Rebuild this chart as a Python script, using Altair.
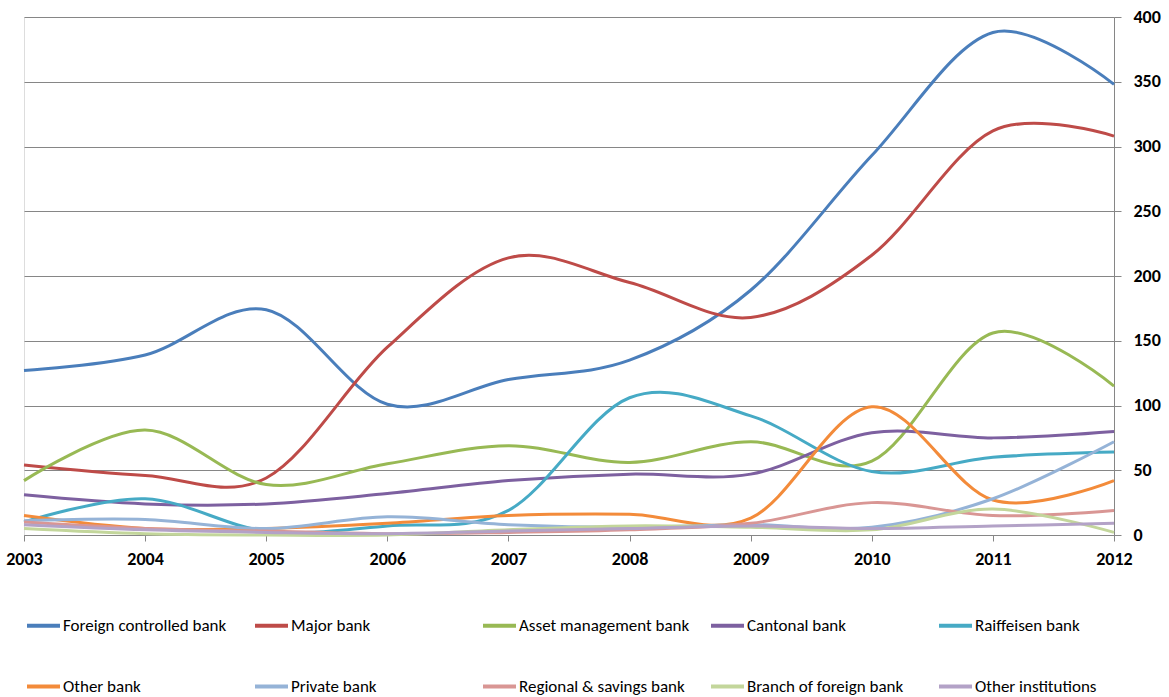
import altair as alt
import pandas as pd

years = [2003, 2004, 2005, 2006, 2007, 2008, 2009, 2010, 2011, 2012]

series_names = [
    "Foreign controlled bank", "Major bank", "Asset management bank", "Cantonal bank",
    "Raiffeisen bank", "Other bank", "Private bank", "Regional & savings bank",
    "Branch of foreign bank", "Other institutions",
]

foreign_controlled = [127, 139, 174, 101, 120, 135, 189, 293, 388, 348]
major = [54, 46, 44, 145, 214, 195, 168, 216, 312, 308]
asset_mgmt = [42, 81, 39, 55, 69, 56, 72, 57, 156, 115]
cantonal = [31, 24, 24, 32, 42, 47, 47, 79, 75, 80]
raiffeisen = [10, 28, 3, 7, 19, 106, 92, 49, 60, 64]
other_bank = [15, 5, 5, 9, 15, 16, 13, 99, 27, 42]
private = [11, 12, 5, 14, 8, 6, 8, 6, 28, 72]
regional = [10, 5, 3, 1, 2, 4, 9, 25, 15, 19]
branch_foreign = [5, 1, 0, 0, 4, 7, 6, 4, 20, 2]
other_inst = [8, 4, 2, 1, 3, 5, 7, 5, 7, 9]

all_values = [foreign_controlled, major, asset_mgmt, cantonal, raiffeisen,
              other_bank, private, regional, branch_foreign, other_inst]

colors = ["#4A7EBB", "#BE4B48", "#98B954", "#7D60A0", "#46AAC5",
          "#F38B3A", "#95B3D7", "#D99694", "#C3D69B", "#B3A2C7"]

rows = []
for i, (name, vals) in enumerate(zip(series_names, all_values)):
    for y, v in zip(years, vals):
        rows.append({"Year": y, "Value": v, "Series": name, "idx": i})
df = pd.DataFrame(rows)

FONT = "Carlito, Calibri, 'Liberation Sans Narrow', 'Open Sans', sans-serif"

chart = alt.Chart(df).mark_line(
    interpolate="cardinal", tension=0, strokeWidth=3
).encode(
    x=alt.X("Year:Q",
            scale=alt.Scale(domain=[2003, 2012], nice=False, zero=False),
            axis=alt.Axis(values=years, format="d", title=None, grid=False,
                          labelFontWeight="bold", labelFontSize=18, labelColor="#000000",
                          labelFont=FONT, domainColor="#868686", tickColor="#868686",
                          tickSize=6, labelPadding=9, labelFlush=False)),
    y=alt.Y("Value:Q",
            scale=alt.Scale(domain=[0, 400], nice=False),
            axis=alt.Axis(orient="right", values=list(range(0, 401, 50)), title=None,
                          grid=True, gridColor="#868686", gridWidth=1,
                          labelFontWeight="bold", labelFontSize=18, labelColor="#000000",
                          labelFont=FONT, domainColor="#868686", tickColor="#868686",
                          tickSize=7, labelPadding=12, labelAlign="left")),
    color=alt.Color("Series:N",
                    scale=alt.Scale(domain=series_names, range=colors),
                    legend=alt.Legend(
                        title=None, orient="none", legendX=1, legendY=590,
                        direction="horizontal", columns=5, gridAlign="all",
                        columnPadding=13, rowPadding=34,
                        symbolType="stroke", symbolSize=1089, symbolStrokeWidth=4,
                        labelFontSize=17, labelFont=FONT, labelColor="#000000",
                        labelOffset=1, labelLimit=300)),
    order=alt.Order("idx:Q"),
    detail="Series:N",
).properties(
    width=1090, height=518,
    autosize=alt.AutoSizeParams(type="none"),
    padding={"left": 24, "top": 17, "right": 55, "bottom": 162},
).configure_view(stroke=None).configure(background="white")

chart.save("out.html", embed_options={"renderer": "svg", "actions": False})
